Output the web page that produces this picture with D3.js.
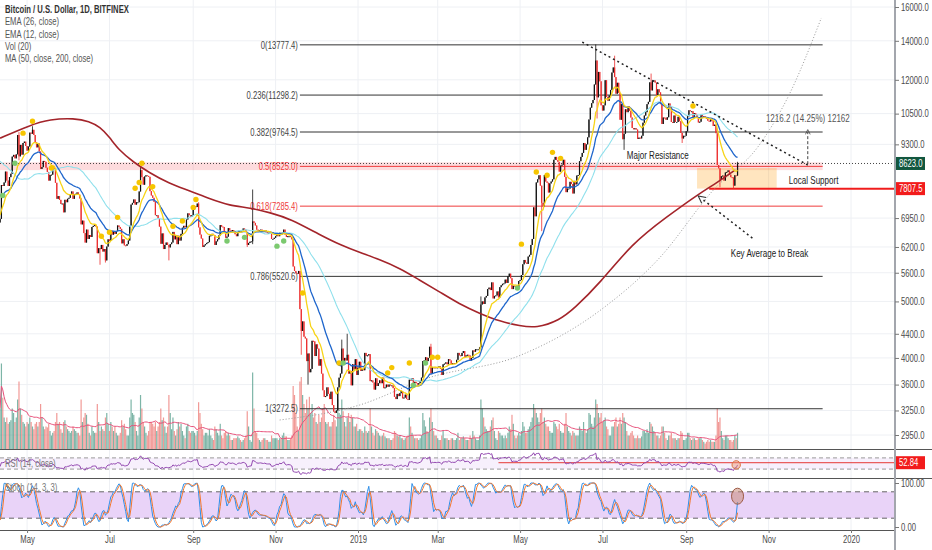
<!DOCTYPE html>
<html>
<head>
<meta charset="utf-8">
<script src="https://cdn.jsdelivr.net/npm/d3@7"></script>
<style>
  body { margin: 0; background: #fff; }
  svg { display: block; font-family: "Liberation Sans", Arial, sans-serif; }
</style>
</head>
<body>
<svg id="chart" width="932" height="550"></svg>
<script>
// ---- data (BTC/USD daily closes, Bitfinex) ----
const startDate = '2018-02-20';   // first value of closePre, only used to warm up indicators
const closePre = [
  11100,10400,9800,10150,9650,9600,10300,10600,10300,
  10900,11000,11440,11500,11450,10700,9900,9300,9200,8770,9530,9140,9150,8200,8250,8270,7860,8200,8600,8900,8900,8700,8900,8550,8450,8150,7790,7940,7090,6840,6930,
  6810,7060,7420,6790,6780,6620,6890,7020,6770,6830
];
const close2018 = [ // from 11 Apr 2018
  6930,7920,7890,8000,8350,8060,7890,8170,8280,8860,8920,8800,8940,9650,8870,9280,8930,9350,9400,9240,
  9070,9220,9740,9700,9850,9650,9370,9190,9330,9040,8440,8500,8710,8680,8480,8340,8060,8240,8250,8520,8400,7990,7500,7580,7470,7350,7360,7110,7470,7400,7500,
  7530,7640,7720,7500,7630,7650,7690,7620,7510,6780,6880,6550,6310,6640,6400,6500,6450,6710,6740,6760,6720,6050,6170,6150,6250,6090,6150,5880,6210,6390,
  6350,6610,6510,6590,6530,6600,6750,6710,6660,6290,6390,6240,6230,6270,6360,6740,7330,7380,7480,7330,7400,7400,7720,8400,8170,7930,8190,8230,8210,8180,7730,
  7600,7530,7410,7030,7030,6940,6720,6280,6540,6150,6250,6310,6250,6190,6270,6310,6580,6390,6490,6270,6480,6360,6530,6690,6740,6700,6910,7080,7030,6980,7030,
  7190,7280,7260,7360,6700,6510,6410,6200,6240,6270,6300,6320,6480,6490,6530,6500,6250,6340,6390,6490,6760,6720,6710,6590,6430,6460,6680,6620,6590,6630,
  6590,6520,6470,6580,6620,6590,6620,6670,6640,6580,6250,6300,6330,6340,6860,6820,6750,6640,6610,6630,6640,6610,6590,6620,6570,6560,6560,6560,6400,6400,6430,
  6470,6510,6470,6560,6520,6560,6640,6510,6450,6470,6470,6450,6390,5740,5640,5590,5580,5640,4850,4450,4620,4350,4320,3950,4070,3780,3830,4280,4270,4030,
  4220,4150,3880,3980,3760,3520,3430,3440,3560,3470,3400,3500,3320,3240,3220,3250,3560,3700,3760,4150,3900,4000,3960,4050,3760,3800,3590,3900,3820,3980,3740
];
const close2019 = [
  3850,3940,3800,3830,3810,4080,4030,4040,4060,3650,3660,3630,3530,3690,3580,3620,3660,3620,3700,3550,3560,3600,3570,3600,3590,3590,3550,3430,3400,3470,3440,
  3480,3510,3410,3420,3460,3400,3390,3670,3660,3690,3620,3640,3620,3600,3620,3650,3700,3950,3960,4010,3950,4000,4180,3760,3860,3840,3860,3840,
  3860,3870,3830,3740,3900,3910,3930,3900,3980,3960,3900,3920,3910,3920,3970,4080,4040,4030,4080,4110,4020,4040,4050,4040,3960,4000,4120,4100,4140,4140,4140,
  4170,4940,5000,4950,5080,5110,5250,5280,5230,5390,5060,5110,5120,5200,5080,5290,5330,5360,5370,5450,5380,5520,5580,5480,5250,5320,5310,5310,5290,5420,
  5440,5550,5790,5890,5830,5800,5970,6010,6250,6400,7250,7000,8000,8100,8230,7900,7380,7280,8240,8030,7990,7690,7970,8030,8100,8750,8850,8740,8680,8350,8550,
  8580,8750,8180,7700,7810,7810,8020,7950,7660,8050,7940,8220,8240,8700,8850,8990,9350,9100,9300,9560,10260,10750,10940,11080,11780,12950,11200,12380,11930,10850,
  10630,10850,11980,11220,11050,11280,11530,12350,12600,12130,11360,11860,11400,10250,10900,9490,9700,10680,10560,10800,10620,10340,9920,9870,9910,9860,9500,9550,9520,9620,10130,
  10420,10560,10900,11000,11880,11510,11970,11970,11870,11300,11560,11420,10900,10080,10340,10330,10250,10350,10930,10780,10160,10120,10420,10160,10160,10370,10190,9730,9520,9620,9620,
  9790,10390,10640,10600,10600,10340,10520,10450,10360,10140,10170,10440,10380,10390,10330,10290,10210,10180,10260,10190,10000,10050,9720,8570,8460,8080,8200,8220,8060,8320,
  8340,8390,8250,8170,8160,7900,8230,8220,8623
];
const vol2018 = [ // volume, from 11 Apr 2018 (thousand BTC)
  45,95,57,35,30,35,28,30,32,45,40,30,35,55,75,45,38,30,28,25,
  30,28,35,30,25,22,28,30,25,30,50,35,25,22,25,24,28,20,15,18,20,30,40,28,30,22,18,30,32,25,22,
  20,18,20,25,22,20,18,18,15,55,30,35,40,38,28,18,15,25,20,18,18,50,30,20,25,22,20,35,40,28,
  20,30,25,20,25,18,15,15,18,32,25,28,22,15,15,35,55,40,38,30,20,15,35,60,45,30,25,18,15,20,30,
  30,28,25,30,20,25,30,45,32,35,25,18,25,60,40,22,35,20,15,22,30,25,28,20,15,12,25,28,20,18,20,
  20,18,15,20,52,40,28,22,15,18,18,15,22,15,12,10,25,22,18,15,28,15,12,18,20,15,18,15,10,10,
  12,12,12,14,12,10,8,10,12,15,42,25,10,8,85,45,20,18,12,10,8,10,12,12,10,10,8,8,15,12,12,
  12,12,10,12,12,15,18,14,14,10,10,12,15,70,60,40,25,20,75,80,60,50,40,55,45,58,40,50,35,40,
  30,28,38,30,35,45,50,30,28,30,25,25,30,38,32,25,55,40,38,55,42,30,25,35,40,30,38,35,25,25,28
];
const vol2019 = [
  20,22,22,20,18,25,20,18,20,45,25,18,15,22,20,18,15,14,15,18,14,12,12,12,10,10,12,20,18,15,14,
  15,12,12,10,12,14,15,35,25,18,15,12,12,12,10,12,15,40,32,25,20,18,35,45,30,20,15,15,
  12,10,10,15,20,12,12,12,10,10,12,12,10,10,12,18,10,12,12,14,12,10,10,10,15,12,20,15,12,10,10,
  15,55,45,35,25,22,20,20,25,32,35,20,12,10,20,18,15,15,12,15,12,18,25,22,38,28,15,12,15,18,
  15,20,30,25,18,18,22,25,30,35,50,45,40,35,30,40,45,30,35,28,25,25,20,18,18,30,28,25,22,28,20,
  18,18,28,40,25,20,18,15,20,18,15,15,15,25,22,20,30,22,18,22,40,38,28,25,35,55,50,40,35,40,
  30,32,35,25,22,15,15,25,25,30,35,25,28,35,28,40,35,30,20,15,15,18,20,15,12,12,15,12,12,14,20,
  20,18,22,18,30,28,25,20,18,15,15,12,15,25,25,18,12,10,15,15,18,12,12,12,10,12,12,20,18,10,10,
  12,18,18,12,10,12,12,10,10,12,12,12,10,8,6,8,10,8,10,8,8,8,15,45,30,35,20,12,10,15,
  15,12,10,10,8,10,15,12,18
];
// notable wicks [date, high, low]
const wicks = [
  ['2018-04-25', 9760, 8730], ['2018-05-05', 9990, null], ['2018-06-24', null, 5780],
  ['2018-06-28', null, 5830], ['2018-07-24', 8500, null], ['2018-08-14', null, 5880],
  ['2018-09-05', 7400, null], ['2018-10-11', null, 6200], ['2018-10-15', 7780, 6270],
  ['2018-11-20', null, 4050], ['2018-11-25', null, 3600], ['2018-12-15', null, 3215],
  ['2018-12-20', 4300, null], ['2018-12-24', 4400, null], ['2019-02-24', 4230, null],
  ['2019-04-02', 5100, null], ['2019-05-17', null, 6600], ['2019-06-26', 13800, null],
  ['2019-06-27', null, 10300], ['2019-07-10', 13200, null], ['2019-07-17', null, 9100],
  ['2019-08-06', 12300, null], ['2019-08-29', null, 9350], ['2019-09-26', null, 7850],
  ['2019-10-06', null, 7800], ['2019-10-09', 8680, null]
];
// MA(200)
const ma200Pts = [
  ['2018-04-11', 9530], ['2018-05-03', 10030], ['2018-05-18', 10270], ['2018-06-05', 10310],
  ['2018-06-16', 10190], ['2018-06-24', 9960], ['2018-07-01', 9570], ['2018-07-08', 9090],
  ['2018-07-19', 8660], ['2018-07-30', 8330], ['2018-08-14', 7970], ['2018-08-29', 7750],
  ['2018-09-13', 7500], ['2018-09-28', 7300], ['2018-10-13', 7240], ['2018-10-28', 7100],
  ['2018-11-12', 6930], ['2018-12-04', 6500], ['2018-12-19', 6250], ['2019-01-02', 6070],
  ['2019-01-17', 5900], ['2019-02-01', 5700], ['2019-02-15', 5450], ['2019-03-02', 5200],
  ['2019-03-17', 4950], ['2019-04-01', 4770], ['2019-04-16', 4620], ['2019-05-01', 4540],
  ['2019-05-13', 4500], ['2019-05-30', 4640], ['2019-06-10', 4860], ['2019-06-29', 5370],
  ['2019-07-23', 6290], ['2019-08-17', 6970], ['2019-09-11', 7670], ['2019-09-23', 7970],
  ['2019-10-07', 8400]
];
const yellowDots = [
  ['2018-04-28', 9720], ['2018-05-05', 10190], ['2018-05-19', 8470], ['2018-06-25', 6470],
  ['2018-07-01', 6570], ['2018-07-07', 6970], ['2018-07-20', 7820], ['2018-07-23', 8000],
  ['2018-07-25', 8630], ['2018-08-02', 7870], ['2018-08-17', 6730], ['2018-08-24', 6870],
  ['2018-09-01', 7250], ['2018-09-03', 7480], ['2018-11-21', 5170], ['2018-12-18', 3920],
  ['2019-01-23', 3770], ['2019-01-26', 3850], ['2019-02-08', 3920], ['2019-02-25', 4010],
  ['2019-03-01', 4010], ['2019-05-02', 6270], ['2019-05-13', 8340], ['2019-05-21', 8230],
  ['2019-05-25', 9010], ['2019-05-31', 8800], ['2019-09-06', 10820]
];
const greenDots = [
  ['2018-04-13', 7600], ['2018-04-22', 8630], ['2018-09-26', 6350], ['2018-10-09', 6440],
  ['2018-11-02', 6220], ['2018-11-07', 6350], ['2018-12-21', 3920], ['2019-02-11', 3590],
  ['2019-02-20', 3920], ['2019-04-29', 5270]
];
const fibLevels = ['0', '0.236', '0.382', '0.5', '0.618', '0.786', '1'];
const fibPrices = [13777.4, 11298.2, 9764.5, 8525.0, 7285.4, 5520.6, 3272.5];
const priceTicks = [16000, 14000, 12000, 10500, 9300, 6950, 6200, 5600, 5000, 4400, 4000, 3600, 3250, 2950];
const monthTicks = ['2018-05-01', '2018-07-01', '2018-09-01', '2018-11-01', '2019-01-01', '2019-03-01',
  '2019-05-01', '2019-07-01', '2019-09-01', '2019-11-01', '2020-01-01'];
const legendRows = ['Bitcoin / U.S. Dollar, 1D, BITFINEX', 'EMA (26, close)', 'EMA (12, close)', 'Vol (20)', 'MA (50, close, 200, close)'];
const lastPrice = 8623.0, supportPrice = 7807.5, rsiMark = 52.84;
const arcPts = [['2018-11-04', 3130], ['2019-01-02', 3320], ['2019-02-21', 3690], ['2019-05-01', 4040],
  ['2019-07-01', 4860], ['2019-08-12', 5930], ['2019-09-21', 7760], ['2019-10-25', 9270],
  ['2019-11-16', 11290], ['2019-12-10', 15320]];
const trendPts = [['2019-06-16', 13930], ['2019-11-30', 8570]];

// ---- build series ----
const parse = d3.utcParse('%Y-%m-%d');
const fmtDay = d3.utcFormat('%Y-%m-%d');
const t0 = parse(startDate);
const closes = closePre.concat(close2018, close2019);
const volumes = vol2018.concat(vol2019);
const nPre = closePre.length;
const wickMap = new Map(wicks.map(w => [w[0], w]));

const bars = closes.map((c, i) => {
  const date = d3.utcDay.offset(t0, i);
  const open = i ? closes[i - 1] : c;
  let high = Math.max(open, c), low = Math.min(open, c);
  const w = wickMap.get(fmtDay(date));
  if (w) {
    if (w[1] != null) high = Math.max(high, w[1]);
    if (w[2] != null) low = Math.min(low, w[2]);
  }
  return { date, open, close: c, high, low, vol: i >= nPre ? volumes[i - nPre] : null };
});

function ema(vals, n) {
  const k = 2 / (n + 1);
  let e = vals[0];
  return vals.map((v, i) => (i ? (e = v * k + e * (1 - k)) : e));
}
function sma(vals, n) {
  return vals.map((v, i) => {
    if (i < n - 1) return null;
    const win = vals.slice(i - n + 1, i + 1);
    return win.some(d => d == null) ? null : d3.mean(win);
  });
}
function rsi(vals, n) {
  let ag = 0, al = 0;
  const out = [null];
  for (let i = 1; i < vals.length; i++) {
    const ch = vals[i] - vals[i - 1];
    const g = Math.max(ch, 0), l = Math.max(-ch, 0);
    if (i <= n) {
      ag += g / n; al += l / n;
      out.push(i === n ? 100 - 100 / (1 + ag / al) : null);
    } else {
      ag = (ag * (n - 1) + g) / n;
      al = (al * (n - 1) + l) / n;
      out.push(al === 0 ? 100 : 100 - 100 / (1 + ag / al));
    }
  }
  return out;
}
const ema12 = ema(closes, 12);
const ema26 = ema(closes, 26);
const ma50 = sma(closes, 50);
const rsi14 = rsi(closes, 14);
const rawK = bars.map((b, i) => {
  if (i < 13) return null;
  const win = bars.slice(i - 13, i + 1);
  const hh = d3.max(win, d => d.high), ll = d3.min(win, d => d.low);
  return hh === ll ? 50 : 100 * (b.close - ll) / (hh - ll);
});
const stK = sma(rawK, 3);
const stD = sma(stK, 3);

const shown = bars.map((b, i) => ({ ...b, i, ema12: ema12[i], ema26: ema26[i], ma50: ma50[i],
  rsi: rsi14[i], k: stK[i], d: stD[i] })).slice(nPre);
shown.forEach((b, j) => {
  const win = shown.slice(Math.max(0, j - 19), j + 1);
  b.volMa = d3.mean(win, d => d.vol);
});

// ---- layout ----
const W = 932, H = 550, axisX = 895;
const mainBottom = 449, rsiBottom = 478, stBottom = 530;
const squeeze = 0.73;   // the chart's UI font is a narrow face
const svg = d3.select('#chart');

const x = d3.scaleUtc().domain([parse('2019-01-01'), parse('2020-01-01')]).range([358, 851]);
const y = d3.scaleLog().domain([2950, 16000]).range([435, 7]);
const yVol = d3.scaleLinear().domain([0, 100]).range([mainBottom, mainBottom - 90]);
const yRsi = d3.scaleLinear().domain([0, 100]).range([477.5, 449.5]);
const ySt = d3.scaleLinear().domain([0, 100]).range([527, 483]);

const defs = svg.append('defs');
[['clipMain', 0, mainBottom], ['clipRsi', mainBottom, rsiBottom], ['clipSt', rsiBottom, stBottom]].forEach(([id, t, b]) => {
  defs.append('clipPath').attr('id', id).append('rect').attr('x', 0).attr('y', t).attr('width', axisX).attr('height', b - t);
});

// grid
const grid = svg.append('g');
grid.selectAll('line.h').data(priceTicks).join('line')
  .attr('x1', 0).attr('x2', axisX).attr('y1', d => y(d)).attr('y2', d => y(d))
  .attr('stroke', '#eef0f4');
grid.selectAll('line.v').data(monthTicks.map(parse)).join('line')
  .attr('x1', d => x(d)).attr('x2', d => x(d)).attr('y1', 0).attr('y2', stBottom)
  .attr('stroke', '#eef0f4');

const main = svg.append('g').attr('clip-path', 'url(#clipMain)');
const P = d => [x(parse(d[0])), y(d[1])];

// band around the 0.5 level and local support box
main.append('rect')
  .attr('x', 0).attr('width', x(parse('2019-12-11')))
  .attr('y', y(8660)).attr('height', y(8400) - y(8660))
  .attr('fill', 'rgba(242,54,69,0.18)');
main.append('rect')
  .attr('x', x(parse('2019-09-09'))).attr('width', x(parse('2019-11-07')) - x(parse('2019-09-09')))
  .attr('y', y(8470)).attr('height', y(7810) - y(8470))
  .attr('fill', 'rgba(255,152,0,0.25)');

// volume
main.append('g').selectAll('rect').data(shown).join('rect')
  .attr('x', d => x(d.date) - 0.6).attr('width', 1.2)
  .attr('y', d => yVol(d.vol)).attr('height', d => mainBottom - yVol(d.vol))
  .attr('fill', d => d.close >= d.open ? 'rgba(70,150,130,0.7)' : 'rgba(235,110,105,0.7)');
main.append('path').datum(shown)
  .attr('d', d3.line().x(d => x(d.date)).y(d => yVol(d.volMa)))
  .attr('fill', 'none').attr('stroke', '#e8507a').attr('stroke-width', 1);

// fib levels
const fibStart = x(parse('2018-11-19')), fibEnd = x(parse('2019-12-11'));
const fib = main.append('g');
fibPrices.forEach((p, i) => {
  const red = fibLevels[i] === '0.5' || fibLevels[i] === '0.618';
  const col = red ? '#ef3b3b' : '#333';
  fib.append('line').attr('x1', fibStart).attr('x2', fibEnd).attr('y1', y(p)).attr('y2', y(p))
    .attr('stroke', col).attr('stroke-width', 1);
  fib.append('text').attr('x', fibStart - 2).attr('y', y(p)).attr('dy', '0.35em')
    .attr('text-anchor', 'end').attr('font-size', 10.5).attr('fill', red ? '#ef3b3b' : '#444')
    .text(`${fibLevels[i]}(${d3.format('.1f')(p)})`);
});

// last price dotted line and local support line
main.append('line').attr('x1', 0).attr('x2', axisX).attr('y1', y(lastPrice)).attr('y2', y(lastPrice))
  .attr('stroke', '#444').attr('stroke-dasharray', '1,2');
main.append('line').attr('x1', x(parse('2019-09-18'))).attr('x2', axisX)
  .attr('y1', y(supportPrice)).attr('y2', y(supportPrice))
  .attr('stroke', '#f01c1c').attr('stroke-width', 2);

// parabolic arc
main.append('path').datum(arcPts)
  .attr('d', d3.line().x(d => P(d)[0]).y(d => P(d)[1]).curve(d3.curveMonotoneX))
  .attr('fill', 'none').attr('stroke', '#999').attr('stroke-width', 1).attr('stroke-dasharray', '1,2');

// candles
const cg = main.append('g');
cg.selectAll('line').data(shown).join('line')
  .attr('x1', d => x(d.date)).attr('x2', d => x(d.date))
  .attr('y1', d => y(d.high)).attr('y2', d => y(d.low))
  .attr('stroke', d => d.close >= d.open ? '#111' : '#ec2d2d').attr('stroke-width', 0.8);
cg.selectAll('rect').data(shown).join('rect')
  .attr('x', d => x(d.date) - 0.6).attr('width', 1.2)
  .attr('y', d => y(Math.max(d.open, d.close)))
  .attr('height', d => Math.max(1, y(Math.min(d.open, d.close)) - y(Math.max(d.open, d.close))))
  .attr('fill', d => d.close >= d.open ? '#111' : '#ec2d2d');

// moving averages
const lineOf = key => d3.line().defined(d => d[key] != null).x(d => x(d.date)).y(d => y(d[key]));
main.append('path').datum(ma200Pts)
  .attr('d', d3.line().x(d => P(d)[0]).y(d => P(d)[1]).curve(d3.curveBasis))
  .attr('fill', 'none').attr('stroke', '#a3242a').attr('stroke-width', 1.6);
main.append('path').datum(shown).attr('d', lineOf('ma50'))
  .attr('fill', 'none').attr('stroke', '#8fe0ec').attr('stroke-width', 1.1);
main.append('path').datum(shown).attr('d', lineOf('ema26'))
  .attr('fill', 'none').attr('stroke', '#1f66cc').attr('stroke-width', 1.3);
main.append('path').datum(shown).attr('d', lineOf('ema12'))
  .attr('fill', 'none').attr('stroke', '#f7d417').attr('stroke-width', 1.3);

// signal dots
main.append('g').selectAll('circle').data(yellowDots).join('circle')
  .attr('cx', d => P(d)[0]).attr('cy', d => P(d)[1]).attr('r', 2.7).attr('fill', '#f6c500');
main.append('g').selectAll('circle').data(greenDots).join('circle')
  .attr('cx', d => P(d)[0]).attr('cy', d => P(d)[1]).attr('r', 2.7).attr('fill', '#7bc96f');

// drawings
const arrowDefs = defs.append('marker').attr('id', 'head').attr('viewBox', '0 0 10 10')
  .attr('refX', 5).attr('refY', 5).attr('markerWidth', 6).attr('markerHeight', 6).attr('orient', 'auto-start-reverse');
arrowDefs.append('path').attr('d', 'M1,1 L9,5 L1,9').attr('fill', 'none').attr('stroke', '#333').attr('stroke-width', 1.2);
main.append('line')
  .attr('x1', P(trendPts[0])[0]).attr('y1', P(trendPts[0])[1])
  .attr('x2', P(trendPts[1])[0]).attr('y2', P(trendPts[1])[1])
  .attr('stroke', '#222').attr('stroke-width', 1.5).attr('stroke-dasharray', '2,3');
const mx = x(parse('2019-11-30'));
main.append('line').attr('x1', mx).attr('x2', mx).attr('y1', y(8600)).attr('y2', y(9764.5))
  .attr('stroke', '#444').attr('stroke-dasharray', '3,2').attr('marker-end', 'url(#head)');
const ka = [P(['2019-10-20', 6420]), P(['2019-09-12', 7520])];
main.append('line').attr('x1', ka[0][0]).attr('y1', ka[0][1]).attr('x2', ka[1][0]).attr('y2', ka[1][1])
  .attr('stroke', '#222').attr('stroke-width', 1.5).attr('stroke-dasharray', '2,3').attr('marker-end', 'url(#head)');

const notes = [
  ['Major Resistance', '2019-07-19', 8760],
  ['Local Support', '2019-11-16', 7950],
  ['Key Average to Break', '2019-10-04', 5960],
  ['1216.2 (14.25%) 12162', '2019-10-30', 10150]
];
svg.append('g').selectAll('text').data(notes).join('text')
  .attr('x', d => x(parse(d[1]))).attr('y', d => y(d[2]))
  .attr('font-size', 11).attr('fill', (d, i) => i === 3 ? '#555' : '#222')
  .text(d => d[0]);

// ---- RSI panel ----
const rsiG = svg.append('g').attr('clip-path', 'url(#clipRsi)');
rsiG.append('rect').attr('x', 0).attr('width', axisX).attr('y', yRsi(70)).attr('height', yRsi(30) - yRsi(70))
  .attr('fill', 'rgba(190,140,230,0.13)');
[70, 30].forEach(v => rsiG.append('line').attr('x1', 0).attr('x2', axisX).attr('y1', yRsi(v)).attr('y2', yRsi(v))
  .attr('stroke', '#999').attr('stroke-dasharray', '4,3'));
rsiG.append('line').attr('x1', x(parse('2019-04-15'))).attr('x2', axisX).attr('y1', yRsi(rsiMark)).attr('y2', yRsi(rsiMark))
  .attr('stroke', '#e53935').attr('stroke-width', 1);
rsiG.append('path').datum(shown)
  .attr('d', d3.line().defined(d => d.rsi != null).x(d => x(d.date)).y(d => yRsi(d.rsi)))
  .attr('fill', 'none').attr('stroke', '#9247b0').attr('stroke-width', 1);
const lastDay = shown[shown.length - 2].date;
rsiG.append('circle').attr('cx', x(lastDay)).attr('cy', yRsi(45)).attr('r', 4.2)
  .attr('fill', 'rgba(235,150,110,0.45)').attr('stroke', '#d9743f').attr('stroke-width', 1);

// ---- Stoch panel ----
const stG = svg.append('g').attr('clip-path', 'url(#clipSt)');
stG.append('rect').attr('x', 0).attr('width', axisX).attr('y', ySt(80)).attr('height', ySt(20) - ySt(80))
  .attr('fill', '#e9d3f8');
[80, 20].forEach(v => stG.append('line').attr('x1', 0).attr('x2', axisX).attr('y1', ySt(v)).attr('y2', ySt(v))
  .attr('stroke', '#666').attr('stroke-dasharray', '5,4'));
stG.append('path').datum(shown)
  .attr('d', d3.line().defined(d => d.k != null).x(d => x(d.date)).y(d => ySt(d.k)))
  .attr('fill', 'none').attr('stroke', '#2f8fe8').attr('stroke-width', 1);
stG.append('path').datum(shown)
  .attr('d', d3.line().defined(d => d.d != null).x(d => x(d.date)).y(d => ySt(d.d)))
  .attr('fill', 'none').attr('stroke', '#f4772c').attr('stroke-width', 1);
stG.append('ellipse').attr('cx', x(shown[shown.length - 1].date)).attr('cy', ySt(70)).attr('rx', 6).attr('ry', 8)
  .attr('fill', 'rgba(200,140,120,0.55)').attr('stroke', '#9c5a44').attr('stroke-width', 1);

// panel separators
[mainBottom, rsiBottom].forEach(v => svg.append('line').attr('x1', 0).attr('x2', W)
  .attr('y1', v + 0.5).attr('y2', v + 0.5).attr('stroke', '#555').attr('stroke-width', 1));
svg.append('line').attr('x1', 0).attr('x2', axisX).attr('y1', stBottom + 0.5).attr('y2', stBottom + 0.5)
  .attr('stroke', '#555');

// ---- axes ----
svg.append('line').attr('x1', axisX).attr('x2', axisX).attr('y1', 0).attr('y2', H)
  .attr('stroke', '#a3a6ad').attr('stroke-width', 2);
const styleAxis = g => {
  g.select('.domain').remove();
  g.selectAll('line').attr('stroke', '#777');
  g.selectAll('text').attr('fill', '#4a4a4a').attr('font-size', 10.5);
};
svg.append('g').attr('transform', `translate(${axisX},0)`)
  .call(d3.axisRight(y).tickValues(priceTicks).tickFormat(d3.format('.1f')).tickSize(4).tickPadding(2))
  .call(styleAxis);
svg.append('g').attr('transform', `translate(${axisX},0)`)
  .call(d3.axisRight(ySt).tickValues([0, 100]).tickFormat(d3.format('.2f')).tickSize(4).tickPadding(2))
  .call(styleAxis);
svg.append('g').attr('transform', `translate(0,${stBottom})`)
  .call(d3.axisBottom(x).tickValues(monthTicks.map(parse))
    .tickFormat(d => d.getUTCMonth() === 0 ? d.getUTCFullYear() : d3.utcFormat('%b')(d))
    .tickSize(3).tickPadding(3))
  .call(styleAxis);

// price labels on the axis
const tags = [[y(lastPrice), '#12573f', d3.format('.1f')(lastPrice)],
  [y(supportPrice), '#f21b1b', d3.format('.1f')(supportPrice)],
  [yRsi(rsiMark), '#f21b1b', d3.format('.2f')(rsiMark)]];
tags.forEach(([ty, col, label]) => {
  svg.append('rect').attr('x', axisX + 1).attr('y', ty - 6.5).attr('width', 29).attr('height', 13).attr('fill', col);
  svg.append('text').attr('x', axisX + 4).attr('y', ty).attr('dy', '0.35em')
    .attr('font-size', 10.5).attr('fill', '#fff').text(label);
});

// legend
svg.append('g').selectAll('text').data(legendRows).join('text')
  .attr('x', 5).attr('y', (d, i) => 13 + i * 12.3)
  .attr('font-size', 10.5).attr('font-weight', (d, i) => i ? 'normal' : 'bold')
  .attr('fill', (d, i) => i ? '#555' : '#333')
  .text(d => d);
svg.append('text').attr('x', 5).attr('y', yRsi(50)).attr('dy', '0.35em').attr('font-size', 10.5).attr('fill', '#777')
  .text('RSI (14, close)');
svg.append('text').attr('x', 5).attr('y', ySt(90)).attr('dy', '0.35em').attr('font-size', 10.5).attr('fill', '#777')
  .text('Stoch (14, 3, 3)');

// narrow every label horizontally, keeping its anchor point
svg.selectAll('text').each(function () {
  const t = d3.select(this);
  const x0 = +t.attr('x') || 0;
  t.attr('x', x0 / squeeze).attr('transform', `scale(${squeeze},1)`);
});
</script>
</body>
</html>
